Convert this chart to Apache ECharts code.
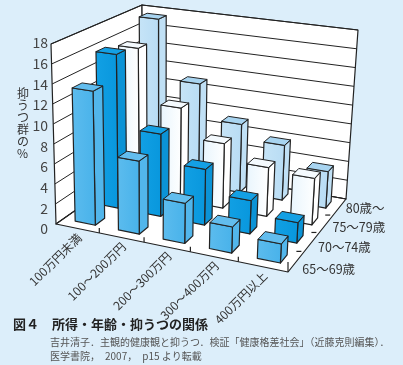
<!DOCTYPE html>
<html>
<head>
<meta charset="utf-8">
<style>
  html, body { margin: 0; padding: 0; background: #dceefa; }
  #main { width: 403px; height: 365px; }
</style>
<script src="https://cdn.jsdelivr.net/npm/echarts@6/dist/echarts.min.js"></script>
</head>
<body>
<div id="main"></div>
<script>
const incomes = ['100万円未満', '100〜200万円', '200〜300万円', '300〜400万円', '400万円以上'];
const ages = ['65〜69歳', '70〜74歳', '75〜79歳', '80歳〜'];
const yTicks = [0, 2, 4, 6, 8, 10, 12, 14, 16, 18];

const values65 = [13.4, 7.2, 3.9, 2.5, 1.8];
const values70 = [15.9, 8.4, 5.6, 3.3, 2];
const values75 = [15.4, 9.7, 6.7, 5, 4.7];
const values80 = [17.5, 11, 7.3, 5.8, 3.8];
const rows = [values65, values70, values75, values80];

// 棒の色 (前面 / 側面 / 上面)
const barColors = [
  { front: ['#5cbcee', '#48b2ea'], side: '#52b6eb', top: '#62bdee' },
  { front: ['#12a0e4', '#0897dd'], side: '#0b93d6', top: '#14a0e4' },
  { front: ['#e8f5fd', '#ffffff'], side: '#ffffff', top: '#f4fafe' },
  { front: ['#c6e4f7', '#b8dcf4'], side: '#c0e0f5', top: '#a8d4f0' }
];

const grid = { left: 50, top: 43, width: 250, height: 186 };
const lineColor = '#222';

// 床面と天面の四隅: 手前左, 手前右, 奥右, 奥左
const floorQuad = [[56, 224], [288, 272], [346, 199], [143, 163]];
const topQuad = [[51, 44], [298, 78], [358, 30], [142, 5]];

function squareToQuad(q) {
  const dx1 = q[1][0] - q[2][0], dx2 = q[3][0] - q[2][0], sx = q[0][0] - q[1][0] + q[2][0] - q[3][0];
  const dy1 = q[1][1] - q[2][1], dy2 = q[3][1] - q[2][1], sy = q[0][1] - q[1][1] + q[2][1] - q[3][1];
  const det = dx1 * dy2 - dx2 * dy1;
  const g = (sx * dy2 - dx2 * sy) / det;
  const h = (dx1 * sy - sx * dy1) / det;
  return (u, v) => {
    const w = g * u + h * v + 1;
    return [
      (q[1][0] - q[0][0] + g * q[1][0]) * u / w + (q[3][0] - q[0][0] + h * q[3][0]) * v / w + q[0][0] / w,
      (q[1][1] - q[0][1] + g * q[1][1]) * u / w + (q[3][1] - q[0][1] + h * q[3][1]) * v / w + q[0][1] / w
    ];
  };
}
const floorAt = squareToQuad(floorQuad);
const topAt = squareToQuad(topQuad);

function project(u, v, k) {
  const a = floorAt(u, v), b = topAt(u, v);
  return [a[0] + (b[0] - a[0]) * k, a[1] + (b[1] - a[1]) * k];
}

// 軸のスケールから u (所得方向) と k (高さ) を取る
function uOf(api, cat) {
  return (api.coord([cat, 0])[0] - grid.left) / grid.width;
}
function kOf(api, val) {
  return (grid.top + grid.height - api.coord([0, val])[1]) / grid.height;
}

function poly(points, fill, width) {
  return {
    type: 'polygon',
    shape: { points: points },
    style: { fill: fill, stroke: lineColor, lineWidth: width, lineJoin: 'round' }
  };
}
function line(a, b, width) {
  return {
    type: 'line',
    shape: { x1: a[0], y1: a[1], x2: b[0], y2: b[1] },
    style: { stroke: lineColor, lineWidth: width }
  };
}

function renderWall(params, api) {
  const k = kOf(api, api.value(1));
  const children = [];
  if (params.dataIndex === 0) {
    children.push(poly([project(0, 0, 0), project(0, 1, 0), project(0, 1, 1), project(0, 0, 1)], '#fff', 1.2));
    children.push(poly([project(0, 1, 0), project(1, 1, 0), project(1, 1, 1), project(0, 1, 1)], '#fff', 1.2));
    children.push(poly([project(0, 0, 0), project(1, 0, 0), project(1, 1, 0), project(0, 1, 0)], '#fff', 1.2));
    // 床の目盛り
    for (let i = 1; i <= incomes.length; i++) {
      const p = project(i / incomes.length, 0, 0);
      children.push(line(p, [p[0], p[1] - (i === incomes.length ? 10 : 5)], 1.2));
    }
    for (let i = 1; i < ages.length; i++) {
      const p = project(1, i / ages.length, 0);
      children.push(line([p[0] - 8, p[1]], [p[0] - 3, p[1]], 1.2));
    }
  }
  children.push({
    type: 'polyline',
    shape: { points: [project(0, 0, k), project(0, 1, k), project(1, 1, k)] },
    style: { fill: 'none', stroke: lineColor, lineWidth: 1 }
  });
  return { type: 'group', children: children };
}

function renderBar(params, api) {
  const row = api.value(2);
  const c = barColors[row];
  const uc = uOf(api, api.value(0)) + 0.002;
  const vc = (row + 0.5) / ages.length;
  const du = 0.047, dv = 0.05;
  const k = kOf(api, api.value(1));
  const fl = [uc - du, vc - dv], fr = [uc + du, vc - dv], br = [uc + du, vc + dv], bl = [uc - du, vc + dv];
  return {
    type: 'group',
    children: [
      poly([project(fr[0], fr[1], 0), project(br[0], br[1], 0), project(br[0], br[1], k), project(fr[0], fr[1], k)], c.side, 1.2),
      poly([project(fl[0], fl[1], 0), project(fr[0], fr[1], 0), project(fr[0], fr[1], k), project(fl[0], fl[1], k)],
        new echarts.graphic.LinearGradient(0, 0, 1, 0, [
          { offset: 0, color: c.front[0] },
          { offset: 1, color: c.front[1] }
        ]), 1.2),
      poly([project(fl[0], fl[1], k), project(fr[0], fr[1], k), project(br[0], br[1], k), project(bl[0], bl[1], k)], c.top, 1)
    ]
  };
}

function renderIncomeLabel(params, api) {
  const u = uOf(api, api.value(0));
  const p = project(u, 0, 0);
  return {
    type: 'text',
    x: p[0] + 2,
    y: p[1] + 7,
    rotation: Math.PI / 4,
    style: {
      text: incomes[api.value(0)],
      align: 'right',
      verticalAlign: 'middle',
      fill: '#333',
      fontSize: 12,
      fontFamily: '"Noto Sans CJK JP"'
    }
  };
}

function renderAgeLabel(params, api) {
  const i = api.value(0);
  const p = project(1, (i + 0.5) / ages.length, 0);
  return {
    type: 'text',
    x: p[0] + 6,
    y: p[1] + 8 - i * 2.3,
    style: {
      text: ages[i],
      align: 'left',
      verticalAlign: 'middle',
      fill: '#333',
      fontSize: 12.5,
      fontFamily: '"Noto Sans CJK JP"'
    }
  };
}

const barSeries = ages.map((name, row) => ({
  name: name,
  type: 'custom',
  coordinateSystem: 'cartesian2d',
  clip: false,
  renderItem: renderBar,
  data: rows[row].map((v, i) => [i, v, row])
})).reverse();

const chart = echarts.init(document.getElementById('main'), null, { renderer: 'canvas' });
chart.setOption({
  animation: false,
  backgroundColor: '#dceefa',
  grid: grid,
  xAxis: { type: 'category', data: incomes, show: false },
  yAxis: {
    type: 'value',
    min: 0,
    max: 18,
    interval: 2,
    axisLine: { show: false },
    axisTick: { show: false },
    splitLine: { show: false },
    axisLabel: { color: '#444', fontSize: 14, margin: 2, fontFamily: '"Noto Sans CJK JP"' }
  },
  graphic: [
    {
      type: 'text', left: 17, top: 87,
      style: { text: '抑\nう\nつ\n群\nの\n%', fill: '#333', fontSize: 12, lineHeight: 12, align: 'center', fontFamily: '"Noto Sans CJK JP"' }
    },
    {
      type: 'text', left: 13, top: 318,
      style: { text: '図４　所得・年齢・抑うつの関係', fill: '#222', fontSize: 13, fontWeight: 'bold', fontFamily: '"Noto Sans CJK JP"' }
    },
    {
      type: 'text', left: 50, top: 337,
      style: { text: '吉井清子．主観的健康観と抑うつ．検証「健康格差社会」（近藤克則編集）．', fill: '#555', fontSize: 10, fontFamily: '"Noto Sans CJK JP"' }
    },
    {
      type: 'text', left: 50, top: 351,
      style: { text: '医学書院，　2007，　p15 より転載', fill: '#555', fontSize: 10, fontFamily: '"Noto Sans CJK JP"' }
    }
  ],
  series: [
    {
      type: 'custom',
      coordinateSystem: 'cartesian2d',
      clip: false,
      renderItem: renderWall,
      data: yTicks.map(t => [0, t])
    },
    ...barSeries,
    {
      type: 'custom',
      coordinateSystem: 'cartesian2d',
      clip: false,
      renderItem: renderIncomeLabel,
      data: incomes.map((d, i) => [i, 0])
    },
    {
      type: 'custom',
      coordinateSystem: 'cartesian2d',
      clip: false,
      renderItem: renderAgeLabel,
      data: ages.map((d, i) => [i, 0])
    }
  ]
});
</script>
</body>
</html>
